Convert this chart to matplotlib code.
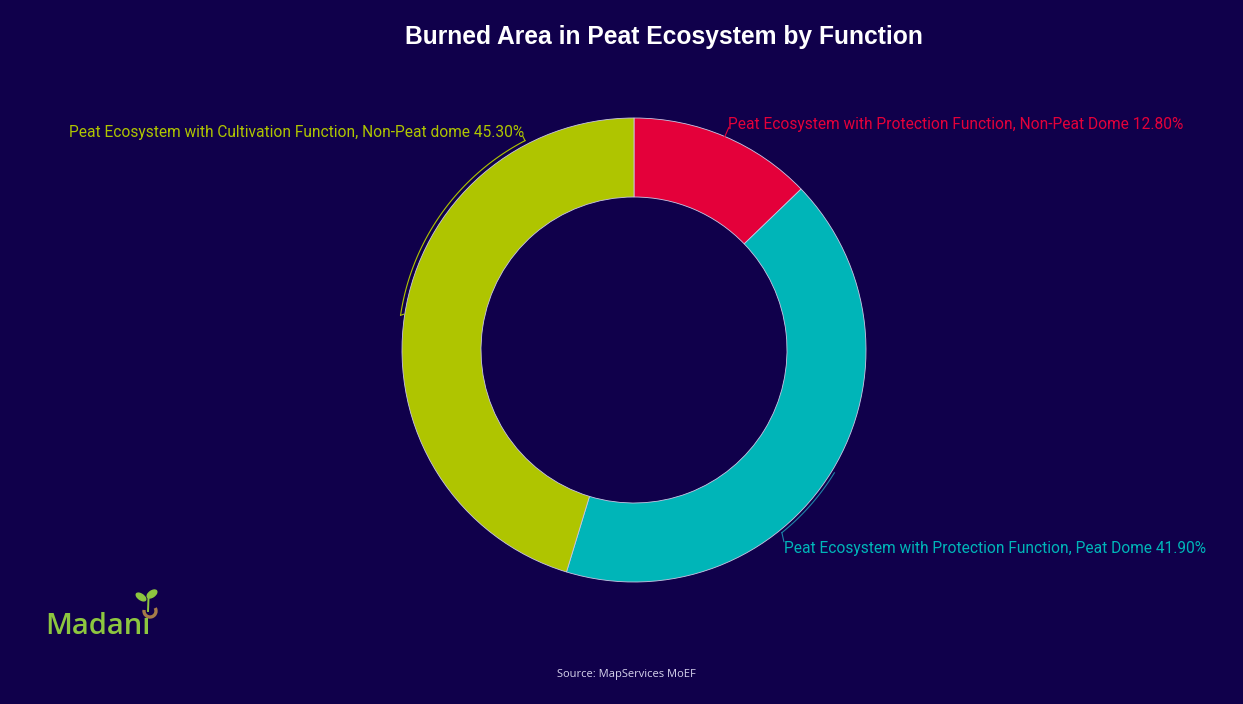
import numpy as np
import matplotlib.pyplot as plt
from matplotlib.patches import Ellipse, Arc

# Burned area shares by peat function
categories = ['Peat Ecosystem with Protection Function, Non-Peat Dome',
              'Peat Ecosystem with Protection Function, Peat Dome',
              'Peat Ecosystem with Cultivation Function, Non-Peat dome']
shares = [12.80, 41.90, 45.30]
colors = ['#E4003A', '#00B5B8', '#AFC500']

bg = '#10004B'
W, H = 1243, 704
fig = plt.figure(figsize=(W / 100, H / 100), dpi=100, facecolor=bg)
ax = fig.add_axes([0, 0, 1, 1])
ax.set_facecolor(bg)

cx, cy = 634, H - 350
R = 232
ring = 79

ax.pie(shares, colors=colors, startangle=90, counterclock=False,
       radius=R, center=(cx, cy),
       wedgeprops=dict(width=ring, edgecolor='#c9c6e4', linewidth=0.6))
ax.set_xlim(0, W)
ax.set_ylim(0, H)
ax.set_aspect('auto')
ax.axis('off')

# mid angle of each slice, degrees clockwise from 12 o'clock
cum = np.cumsum([0] + shares)
mids = [(cum[i] + cum[i + 1]) / 2 * 3.6 for i in range(len(shares))]


def pt(angle_cw, r):
    a = np.deg2rad(90 - angle_cw)
    return cx + r * np.cos(a), cy + r * np.sin(a)


def arc_leader(a0, a1, r, color):
    t = np.linspace(a0, a1, 60)
    xs, ys = pt(t, r)
    ax.plot(xs, ys, color=color, lw=0.8)


lab_font = dict(family='Roboto', fontsize=11.2)

# red slice: short leader to label
x0, y0 = pt(mids[0], R)
ax.plot([x0, x0 + 4], [y0, y0 + 9], color=colors[0], lw=0.8)
ax.text(728, H - 124, f'{categories[0]} {shares[0]:.2f}%', color=colors[0],
        ha='left', va='center', **lab_font)

# teal slice: leader runs along the ring down to the label
arc_leader(mids[1], 141, R + 3, '#1d84a8')
xe, ye = pt(141, R + 3)
ax.plot([xe, xe + 2], [ye, ye - 9], color='#1d84a8', lw=0.8)
ax.text(784, H - 548, f'{categories[1]} {shares[1]:.2f}%', color=colors[1],
        ha='left', va='center', **lab_font)

# yellow-green slice: leader runs up along the ring to the label
arc_leader(332.5, mids[2], R + 4, colors[2])
xs_, ys_ = pt(332.5, R + 4)
ax.plot([xs_, xs_ - 2], [ys_, ys_ + 4], color=colors[2], lw=0.8)
xm, ym = pt(mids[2], R + 4)
ax.plot([xm, xm + 3], [ym, ym + 1], color=colors[2], lw=0.8)
ax.text(524, H - 133, f'{categories[2]} {shares[2]:.2f}%', color=colors[2],
        ha='right', va='center', **lab_font)

ax.text(664, H - 37, 'Burned Area in Peat Ecosystem by Function', color='white',
        ha='center', va='center', fontsize=17.7, fontweight='bold',
        family='Liberation Sans')

ax.text(626, H - 674, 'Source: MapServices MoEF', color='#d6d3ec',
        ha='center', va='center', fontsize=8, family='Open Sans')

# Madani logo
green = '#8DC63F'
ax.text(45, H - 627, 'Madan\u0131', color=green, ha='left', va='center',
        fontsize=21, fontweight='semibold', family='Open Sans')
ax.add_patch(Arc((150, H - 611), 12, 12, theta1=170, theta2=390,
                 color='#a57b48', lw=2.4))
ax.plot([148, 148.5], [H - 611, H - 598], color=green, lw=1.4)
ax.add_patch(Ellipse((141, H - 597), 11, 5.5, angle=-35, color=green))
ax.add_patch(Ellipse((152, H - 594), 11, 6, angle=35, color=green))

fig.savefig('out.png', dpi=100, facecolor=bg)
